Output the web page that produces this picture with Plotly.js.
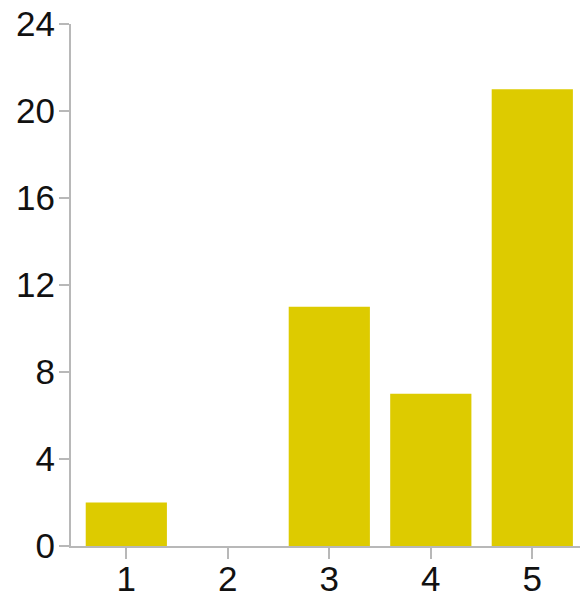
<!DOCTYPE html>
<html>
<head>
<meta charset="utf-8">
<script src="https://cdn.plot.ly/plotly-3.0.1.min.js"></script>
<style>html,body{margin:0;padding:0;background:#fff;}#chart{width:580px;height:599px;}</style>
</head>
<body>
<div id="chart"></div>
<script>
const categories = [1, 2, 3, 4, 5];
const counts = [2, 0, 11, 7, 21];
const yTicks = [0, 4, 8, 12, 16, 20, 24];

const trace = {
  type: 'bar',
  x: categories,
  y: counts,
  marker: {color: '#DDCB00'},
  width: 0.8,
  hoverinfo: 'none'
};

const layout = {
  width: 580,
  height: 599,
  margin: {l: 71, r: 0, t: 24, b: 53, pad: 0},
  paper_bgcolor: '#fff',
  plot_bgcolor: '#fff',
  showlegend: false,
  font: {family: 'Liberation Sans, Arial, sans-serif', size: 36, color: '#111'},
  xaxis: {
    type: 'linear',
    range: [0.455, 5.47],
    tickvals: categories,
    ticktext: categories.map(String),
    showgrid: false,
    zeroline: false,
    showline: true,
    linecolor: '#b8b8b8',
    linewidth: 2,
    ticks: 'outside',
    ticklen: 11,
    tickwidth: 2,
    tickcolor: '#b8b8b8',
    tickfont: {size: 35},
    ticklabelstandoff: -10,
    fixedrange: true
  },
  yaxis: {
    range: [0, 24],
    tickvals: yTicks,
    ticktext: yTicks.map(String),
    showgrid: false,
    zeroline: false,
    showline: true,
    linecolor: '#b8b8b8',
    linewidth: 2,
    ticks: 'outside',
    ticklen: 10,
    tickwidth: 2,
    tickcolor: '#b8b8b8',
    tickfont: {size: 35},
    ticklabelstandoff: -3,
    fixedrange: true
  }
};

Plotly.newPlot('chart', [trace], layout, {staticPlot: true, displayModeBar: false});
</script>
</body>
</html>
